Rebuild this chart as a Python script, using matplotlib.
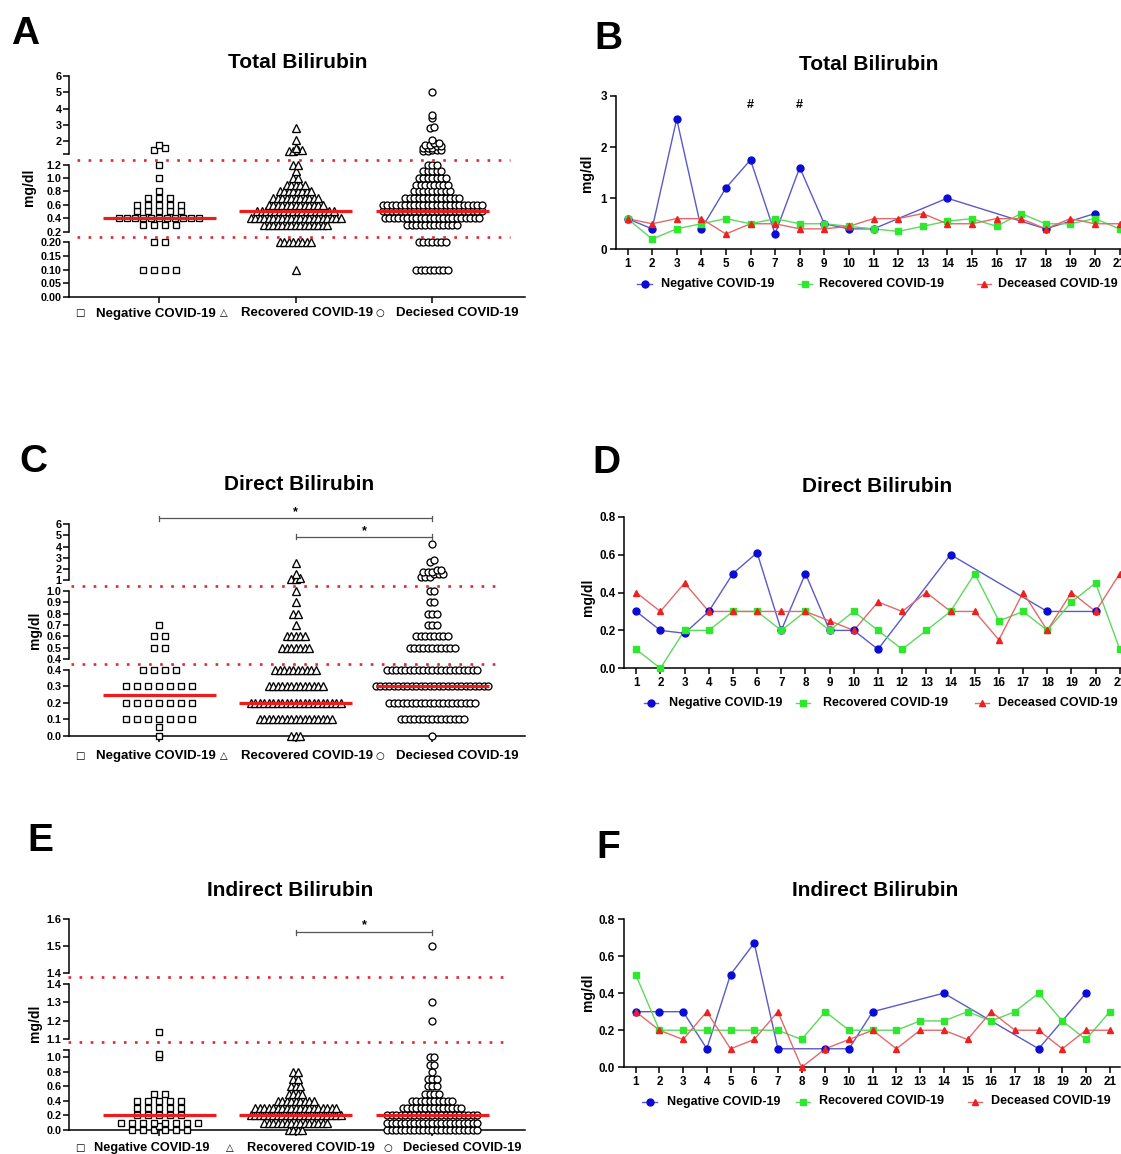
import numpy as np
import matplotlib
matplotlib.use('Agg')
import matplotlib.pyplot as plt

W, H = 1121, 1154
plt.rcParams['font.family'] = ['Liberation Sans', 'DejaVu Sans']
plt.rcParams['font.weight'] = 'bold'
plt.rcParams['axes.linewidth'] = 1.1

# ---------------- data ----------------
dot_groups = ['Negative COVID-19', 'Recovered COVID-19', 'Deciesed COVID-19']
line_groups = ['Negative COVID-19', 'Recovered COVID-19', 'Deceased COVID-19']

# Panel A: Total Bilirubin (value, count per value)
A_neg_vals = [1.75, 1.6, 1.5, 1.2, 1.0, 0.8, 0.7, 0.6, 0.5, 0.4, 0.3, 0.2, 0.1]
A_neg_cnts = [1, 1, 1, 1, 1, 1, 3, 5, 5, 11, 4, 2, 4]
A_rec_vals = [2.8, 2.1, 1.6, 1.5, 1.4, 1.2, 1.1, 1.0, 0.9, 0.8, 0.7, 0.6, 0.5, 0.4, 0.3, 0.2, 0.1]
A_rec_cnts = [1, 1, 1, 2, 2, 2, 1, 2, 5, 8, 11, 13, 18, 21, 15, 8, 1]
A_dec_vals = [5.0, 3.6, 3.4, 2.9, 2.8, 2.1, 1.9, 1.8, 1.7, 1.6, 1.5, 1.4,
              1.2, 1.1, 1.0, 0.9, 0.8, 0.7, 0.6, 0.5, 0.4, 0.3, 0.2, 0.1]
A_dec_cnts = [1, 1, 1, 1, 1, 1, 2, 2, 2, 3, 3, 2,
              3, 5, 7, 8, 9, 13, 23, 23, 22, 12, 7, 8]
A_medians = [0.4, 0.5, 0.5]

# Panel C: Direct Bilirubin
C_neg_vals = [0.7, 0.6, 0.5, 0.4, 0.3, 0.2, 0.1, 0.05, 0.0]
C_neg_cnts = [1, 2, 2, 4, 7, 7, 7, 1, 1]
C_rec_vals = [2.5, 1.5, 1.2, 1.1, 1.0, 0.9, 0.8, 0.7, 0.6, 0.5, 0.4, 0.3, 0.2, 0.1, 0.0]
C_rec_cnts = [1, 1, 1, 2, 1, 1, 2, 1, 5, 7, 10, 13, 21, 17, 3]
C_dec_vals = [4.2, 2.8, 2.6, 1.9, 1.7, 1.5, 1.3, 1.0, 0.9, 0.8, 0.7, 0.6, 0.5, 0.4, 0.3, 0.2, 0.1, 0.0]
C_dec_cnts = [1, 1, 1, 2, 3, 3, 3, 2, 2, 3, 3, 8, 11, 21, 26, 20, 15, 1]
C_medians = [0.25, 0.2, 0.3]

# Panel E: Indirect Bilirubin
E_neg_vals = [1.14, 1.05, 1.0, 0.5, 0.4, 0.3, 0.2, 0.1, 0.05, 0.0]
E_neg_cnts = [1, 1, 1, 2, 5, 5, 5, 8, 1, 6]
E_rec_vals = [0.8, 0.7, 0.6, 0.5, 0.4, 0.3, 0.2, 0.1, 0.0]
E_rec_cnts = [2, 2, 3, 4, 9, 19, 21, 15, 4]
E_dec_vals = [1.5, 1.3, 1.2, 1.0, 0.9, 0.8, 0.7, 0.6, 0.5, 0.4, 0.3, 0.2, 0.1, 0.0]
E_dec_cnts = [1, 1, 1, 2, 2, 1, 3, 3, 4, 10, 14, 21, 21, 21]
E_medians = [0.2, 0.2, 0.2]

# Panels B, D, F: daily means (None = no value)
days = list(range(1, 22))
B_neg = [0.6, 0.4, 2.55, 0.4, 1.2, 1.75, 0.3, 1.6, 0.5, 0.4, 0.4, None, None, 1.0,
         None, None, None, 0.4, None, 0.7, None]
B_rec = [0.6, 0.2, 0.4, 0.5, 0.6, 0.5, 0.6, 0.5, 0.5, 0.45, 0.4, 0.35, 0.45, 0.55,
         0.6, 0.45, 0.7, 0.5, 0.5, 0.6, 0.4]
B_dec = [0.6, 0.5, 0.6, 0.6, 0.3, 0.5, 0.5, 0.4, 0.4, 0.45, 0.6, 0.6, 0.7, 0.5,
         0.5, 0.6, 0.6, 0.4, 0.6, 0.5, 0.5]
B_marks = [6, 8]

D_neg = [0.3, 0.2, 0.185, 0.3, 0.5, 0.61, 0.2, 0.5, 0.2, 0.2, 0.1, None, None, 0.6,
         None, None, None, 0.3, None, 0.3, None]
D_rec = [0.1, 0.0, 0.2, 0.2, 0.3, 0.3, 0.2, 0.3, 0.2, 0.3, 0.2, 0.1, 0.2, 0.3,
         0.5, 0.25, 0.3, 0.2, 0.35, 0.45, 0.1]
D_dec = [0.4, 0.3, 0.45, 0.3, 0.3, 0.3, 0.3, 0.3, 0.25, 0.2, 0.35, 0.3, 0.4, 0.3,
         0.3, 0.15, 0.4, 0.2, 0.4, 0.3, 0.5]

F_neg = [0.3, 0.3, 0.3, 0.1, 0.5, 0.67, 0.1, None, 0.1, 0.1, 0.3, None, None, 0.4,
         None, None, None, 0.1, None, 0.4, None]
F_rec = [0.5, 0.2, 0.2, 0.2, 0.2, 0.2, 0.2, 0.15, 0.3, 0.2, 0.2, 0.2, 0.25, 0.25,
         0.3, 0.25, 0.3, 0.4, 0.25, 0.15, 0.3]
F_dec = [0.3, 0.2, 0.15, 0.3, 0.1, 0.15, 0.3, 0.0, 0.1, 0.15, 0.2, 0.1, 0.2, 0.2,
         0.15, 0.3, 0.2, 0.2, 0.1, 0.2, 0.2]

# ---------------- figure ----------------
fig = plt.figure(figsize=(W / 100, H / 100), dpi=100)
fig.patch.set_facecolor('white')
ov = fig.add_axes([0, 0, 1, 1], zorder=6)
ov.set_xlim(0, W)
ov.set_ylim(H, 0)
ov.axis('off')
ov.patch.set_alpha(0)


def box(x0, y0, x1, y1, **kw):
    return fig.add_axes([x0 / W, 1 - y1 / H, (x1 - x0) / W, (y1 - y0) / H], **kw)


XL = (-0.665, 2.68)
X0, X1 = 68.5, 525
PXU = (X1 - X0) / (XL[1] - XL[0])
MARKERS = ['s', '^', 'o']
MSIZE = [4.3, 5.3, 5.0]
STEP = [11.0, 4.5, 4.5]
MAXW = [80.0, 300.0, 300.0]
RED = '#ee1c1c'
DOTRED = '#e3262f'


def dot_panel(segs, data, medians, red_ys, red_x, labels, label_y, label_fs, brackets):
    axes = []
    n = len(segs)
    for i, s in enumerate(segs):
        ax = box(X0, s['top'], X1, s['bot'], zorder=2)
        ax.set_xlim(*XL)
        ax.set_ylim(s['lo'], s['hi'])
        ax.patch.set_alpha(0)
        ax.spines['top'].set_visible(False)
        ax.spines['right'].set_visible(False)
        last = (i == n - 1)
        ax.spines['bottom'].set_visible(last)
        ax.set_yticks(s['ticks'])
        ax.set_yticklabels(s['labels'])
        ax.tick_params(axis='y', length=4, width=1.1, pad=1, labelsize=7.8)
        if last:
            ax.set_xticks([0, 1, 2])
            ax.set_xticklabels([])
            ax.tick_params(axis='x', length=4, width=1.1)
        else:
            ax.set_xticks([])
        axes.append(ax)

    def seg_of(v):
        for i, s in enumerate(segs):
            if v > s['lo'] or i == n - 1:
                return i

    def ypx(v):
        s = segs[seg_of(v)]
        return s['bot'] - (v - s['lo']) / (s['hi'] - s['lo']) * (s['bot'] - s['top'])

    for g, (vals, cnts) in enumerate(data):
        # group nearby values into rows, then spread each row horizontally
        order = sorted(range(len(vals)), key=lambda k: -ypx(vals[k]))
        rows = []
        for k in order:
            v = vals[k]
            if rows and seg_of(rows[-1][0]) == seg_of(v) and \
                    abs(ypx(v) - ypx(rows[-1][0])) <= 2.6:
                rows[-1].extend([v] * cnts[k])
            else:
                rows.append([v] * cnts[k])
        pts = {i: ([], []) for i in range(n)}
        for row in rows:
            m = len(row)
            st = STEP[g] if m < 2 else min(STEP[g], MAXW[g] / (m - 1))
            for j, v in enumerate(row):
                si = seg_of(v)
                pts[si][0].append(g + (j - (m - 1) / 2) * st / PXU)
                pts[si][1].append(v)
        for si in range(n):
            if pts[si][0]:
                axes[si].plot(pts[si][0], pts[si][1], ls='none', marker=MARKERS[g],
                              ms=MSIZE[g], mfc='white', mec='black', mew=0.95,
                              clip_on=False, zorder=3)
        med = medians[g]
        axes[seg_of(med)].plot([g - 0.414, g + 0.414], [med, med], color=RED,
                               lw=2.3, solid_capstyle='butt', zorder=5, clip_on=False)

    for y in red_ys:
        ov.plot(red_x, [y, y], color=DOTRED, lw=1.9, dashes=(1, 3.2),
                dash_capstyle='butt')

    for (txt, x, ha, fam) in labels:
        if fam == 'sym':
            ov.text(x, label_y - 0.5, txt, ha='center', va='center', fontsize=7.2,
                    family=['DejaVu Sans'], weight='normal')
        else:
            ov.text(x, label_y, txt, ha='left', va='center', fontsize=label_fs,
                    weight='bold')

    top = segs[0]
    axt = axes[0]

    def v_of(px):
        return top['lo'] + (top['bot'] - px) / (top['bot'] - top['top']) * (top['hi'] - top['lo'])

    cap = 2.6 / (top['bot'] - top['top']) * (top['hi'] - top['lo'])
    for (c0, c1, ypix, spix) in brackets:
        yb = v_of(ypix)
        axt.plot([c0, c1], [yb, yb], color='#555555', lw=0.9, clip_on=False)
        for c in (c0, c1):
            axt.plot([c, c], [yb - cap, yb + cap], color='#555555', lw=0.9, clip_on=False)
        axt.text((c0 + c1) / 2, v_of(spix), '*', ha='center', va='center',
                 fontsize=9, clip_on=False)
    return axes


lab_AC = [('□', 80, 'c', 'sym'), ('Negative COVID-19', 96.5, 'l', 'txt'),
          ('△', 224, 'c', 'sym'), ('Recovered COVID-19', 241, 'l', 'txt'),
          ('○', 380, 'c', 'sym'), ('Deciesed COVID-19', 396, 'l', 'txt')]
lab_E = [('□', 80, 'c', 'sym'), ('Negative COVID-19', 94.5, 'l', 'txt'),
         ('△', 230, 'c', 'sym'), ('Recovered COVID-19', 247, 'l', 'txt'),
         ('○', 388, 'c', 'sym'), ('Deciesed COVID-19', 403, 'l', 'txt')]

# Panel A
segA = [dict(top=76, bot=154.4, lo=1.2, hi=6, ticks=[1.2, 2, 3, 4, 5, 6],
             labels=['', '2', '3', '4', '5', '6']),
        dict(top=164.7, bot=231.5, lo=0.2, hi=1.2, ticks=[0.2, 0.4, 0.6, 0.8, 1.0, 1.2],
             labels=['0.2', '0.4', '0.6', '0.8', '1.0', '1.2']),
        dict(top=242, bot=297, lo=0.0, hi=0.2, ticks=[0, 0.05, 0.1, 0.15, 0.2],
             labels=['0.00', '0.05', '0.10', '0.15', '0.20'])]
dot_panel(segA, [(A_neg_vals, A_neg_cnts), (A_rec_vals, A_rec_cnts), (A_dec_vals, A_dec_cnts)],
          A_medians, [159.5, 236.8], [77, 510], lab_AC, 313.5, 9.5, [])

# Panel C
segC = [dict(top=524.3, bot=580, lo=1, hi=6, ticks=[1, 2, 3, 4, 5, 6],
             labels=['1', '2', '3', '4', '5', '6']),
        dict(top=591, bot=659, lo=0.4, hi=1.0, ticks=[0.4, 0.5, 0.6, 0.7, 0.8, 0.9, 1.0],
             labels=['0.4', '0.5', '0.6', '0.7', '0.8', '0.9', '1.0']),
        dict(top=670, bot=735.7, lo=0.0, hi=0.4, ticks=[0, 0.1, 0.2, 0.3, 0.4],
             labels=['0.0', '0.1', '0.2', '0.3', '0.4'])]
dot_panel(segC, [(C_neg_vals, C_neg_cnts), (C_rec_vals, C_rec_cnts), (C_dec_vals, C_dec_cnts)],
          C_medians, [586, 664], [71, 499], lab_AC, 756, 9.5,
          [(0, 2, 518.3, 511.7), (1, 2, 536.7, 530.7)])

# Panel E
segE = [dict(top=919, bot=972.7, lo=1.4, hi=1.6, ticks=[1.4, 1.5, 1.6],
             labels=['1.4', '1.5', '1.6']),
        dict(top=984, bot=1039.3, lo=1.1, hi=1.4, ticks=[1.1, 1.2, 1.3, 1.4],
             labels=['1.1', '1.2', '1.3', '1.4']),
        dict(top=1050, bot=1130, lo=0.0, hi=1.1, ticks=[0, 0.2, 0.4, 0.6, 0.8, 1.0, 1.1],
             labels=['0.0', '0.2', '0.4', '0.6', '0.8', '1.0', ''])]
dot_panel(segE, [(E_neg_vals, E_neg_cnts), (E_rec_vals, E_rec_cnts), (E_dec_vals, E_dec_cnts)],
          E_medians, [976.7, 1042], [68, 503], lab_E, 1148, 9.2,
          [(1, 2, 932.3, 925)])

# ---------------- line panels ----------------
LCOL = [('#0b0bd6', '#5a5ac8', 'o', 5.0), ('#2ee82e', '#5fd85f', 's', 4.6),
        ('#ee2020', '#e26a6a', '^', 4.7)]


def line_panel(yaxis_px, x1_px, dx, top, bot, ylim, yticks, ylabels, series, legend, xmax):
    xmin = 1 - (x1_px - yaxis_px) / dx
    right = x1_px + (xmax - 1) * dx
    ax = box(yaxis_px, top, right, bot, zorder=2)
    ax.set_xlim(xmin, xmax)
    ax.set_ylim(*ylim)
    ax.patch.set_alpha(0)
    ax.spines['top'].set_visible(False)
    ax.spines['right'].set_visible(False)
    ax.set_xticks(days)
    ax.set_xticklabels([str(d) for d in days])
    ax.set_yticks(yticks)
    ax.set_yticklabels(ylabels)
    ax.tick_params(length=4, width=1.1, labelsize=8.4, pad=2.5)
    for (vals, (mc, lc, mk, ms)) in zip(series, LCOL):
        xs = [d for d, v in zip(days, vals) if v is not None]
        ys = [v for v in vals if v is not None]
        ax.plot(xs, ys, color=lc, lw=1.0, zorder=3, clip_on=False)
        ax.plot(xs, ys, ls='none', marker=mk, ms=ms, mfc=mc, mec=mc, zorder=4,
                clip_on=False)
    ly, entries = legend
    for (h0, h1, tx), (mc, lc, mk, ms), name in zip(entries, LCOL, line_groups):
        ov.plot([h0, h1], [ly, ly], color=lc, lw=1.0)
        ov.plot([(h0 + h1) / 2], [ly], ls='none', marker=mk, ms=ms, mfc=mc, mec=mc)
        ov.text(tx, ly, name, ha='left', va='center', fontsize=9, weight='bold')
    return ax


axB = line_panel(615.8, 627.5, 24.6, 96, 249.3, (0, 3), [0, 1, 2, 3], ['0', '1', '2', '3'],
                 [B_neg, B_rec, B_dec],
                 (284, [(637, 652, 661), (798, 812, 819), (977, 991, 998)]), 21.5)
for d in B_marks:
    axB.text(d, 2.82, '#', ha='center', va='center', fontsize=9, weight='bold')

line_panel(624.4, 636.2, 24.18, 516.7, 668.3, (0, 0.8), [0, 0.2, 0.4, 0.6, 0.8],
           ['0.0', '0.2', '0.4', '0.6', '0.8'], [D_neg, D_rec, D_dec],
           (703, [(644, 658, 669), (796, 810, 823), (975, 989, 998)]), 21.5)

line_panel(623.7, 635.7, 23.7, 919, 1067.3, (0, 0.8), [0, 0.2, 0.4, 0.6, 0.8],
           ['0.0', '0.2', '0.4', '0.6', '0.8'], [F_neg, F_rec, F_dec],
           (1101.5, [(642, 657, 667), (796, 810, 819), (968, 982, 991)]), 21.45)

# ---------------- titles, letters, axis labels ----------------
titles = [('Total Bilirubin', 298, 62.5), ('Total Bilirubin', 869, 65),
          ('Direct Bilirubin', 299, 485), ('Direct Bilirubin', 877, 487),
          ('Indirect Bilirubin', 290, 890), ('Indirect Bilirubin', 875, 891)]
for t, x, y in titles:
    ov.text(x, y, t, ha='center', va='center', fontsize=15, weight='bold')

letters = [('A', 25, 34), ('B', 608, 39), ('C', 33, 462.5), ('D', 606, 463),
           ('E', 40, 841), ('F', 608, 848)]
for t, x, y in letters:
    ov.text(x, y, t, ha='center', va='center', fontsize=28, weight='bold')

ylabs = [(29, 187), (587, 173), (35, 630), (588, 597), (35, 1023), (588, 992)]
for x, y in ylabs:
    ov.text(x, y, 'mg/dl', rotation=90, ha='center', va='center', fontsize=10,
            weight='bold')

fig.savefig('out.png', dpi=100, facecolor='white')
